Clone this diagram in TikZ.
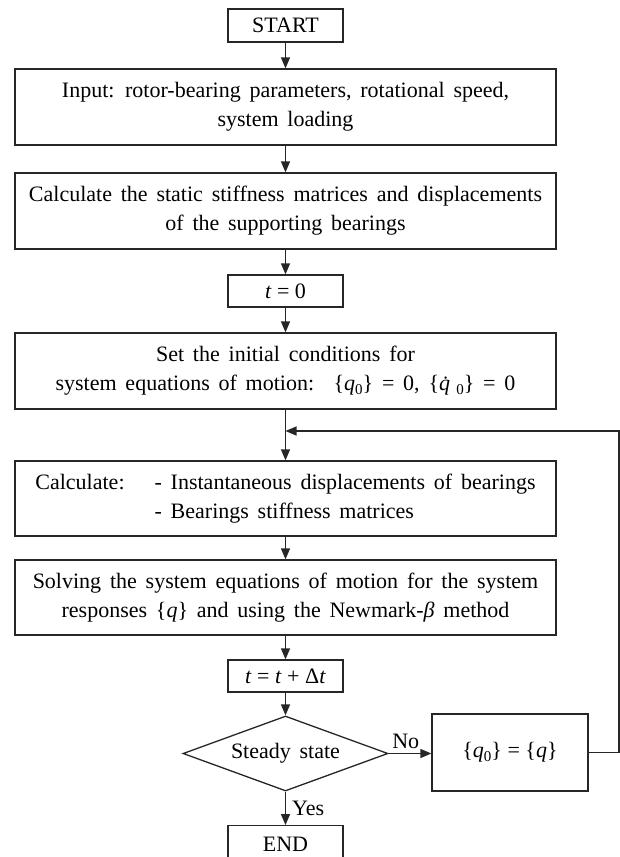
\documentclass[tikz,border=0pt]{standalone}
\usepackage{fontspec}
\setmainfont{Liberation Serif}
\usetikzlibrary{arrows.meta,shapes.geometric}
\newcommand{\mysub}[1]{\raisebox{-4pt}{\fontsize{15}{15}\selectfont #1}}
\newcommand{\myfont}{\fontsize{22}{29}\selectfont\spaceskip=0.4em plus 0.1em minus 0.05em\relax}
\newcommand{\myfontn}{\fontsize{22}{29}\selectfont}
\tikzset{
  box/.style={draw=black!85, line width=1.3pt, rectangle, inner sep=0pt, align=center,
    font=\myfont, minimum width=541pt, minimum height=76pt},
  smallbox/.style={box, font=\myfontn, minimum width=115pt, minimum height=33pt},
  decision/.style={draw=black!85, line width=1.3pt, diamond, inner sep=0pt, aspect=2.73,
    minimum width=205pt, minimum height=75pt, font=\myfont},
  arr/.style={draw=black!85, line width=1.3pt, -{Triangle[length=11pt,width=9pt]}},
  ln/.style={draw=black!85, line width=1.3pt},
  lbl/.style={font=\myfontn, inner sep=0pt}
}
\begin{document}
\begin{tikzpicture}[x=1pt,y=-1pt]
\useasboundingbox (0,0) rectangle (620,857);
\clip (0,0) rectangle (620,857);
\fill[white] (0,0) rectangle (620,857);
\node[smallbox] (start) at (285.5,25.5) {START};
\node[box] (input) at (285.5,107) {Input: rotor-bearing parameters, rotational speed,\\ system loading};
\node[box] (calc) at (285.5,211) {Calculate the static stiffness matrices and displacements\\ of the supporting bearings};
\node[smallbox, minimum height=32pt] (t0) at (285.5,291) {\textit{t} = 0};
\node[box] (set) at (285.5,371) {Set the initial conditions for\\ system equations of motion: \ \{\textit{q}\mysub{0}\} = 0, \{\textit{q̇}\mysub{0}\} = 0};
\coordinate (join) at (285.5,431);
\node[box, minimum height=75pt] (inst) at (285.5,498.5) {\begin{tabular}{@{}l@{\hspace{30pt}}l@{}}Calculate: & - Instantaneous displacements of bearings\\ & - Bearings stiffness matrices\end{tabular}};
\node[box, minimum height=75pt] (solve) at (285.5,597.5) {Solving the system equations of motion for the system\\ responses \{\textit{q}\} and using the Newmark-\textit{β} method};
\node[smallbox, minimum height=32pt] (tdt) at (285.5,676) {\textit{t} = \textit{t} + Δ\textit{t}};
\node[decision] (steady) at (285.5,753.5) {Steady state};
\node[box, font=\myfontn, minimum width=156pt, minimum height=77pt] (upd) at (510,752.5) {\{\textit{q}\mysub{0}\} = \{\textit{q}\}};
\node[smallbox, minimum height=40pt, anchor=north] (end) at (285.5,825) {\raisebox{3.5pt}{END}};
\coordinate (loopR) at (619,431);

\draw[arr] (start) -- (input);
\draw[arr] (input) -- (calc);
\draw[arr] (calc) -- (t0);
\draw[arr] (t0) -- (set);
\draw[ln] (set) -- (join);
\draw[arr] (join) -- (inst);
\draw[arr] (inst) -- (solve);
\draw[arr] (solve) -- (tdt);
\draw[arr] (tdt) -- (steady);
\draw[arr] (steady) -- node[lbl, right=6pt] {Yes} (end);
\draw[arr] (steady.east) -- node[lbl, above=4pt, pos=0.4] {No} (upd.west |- steady.east);
\draw[arr] (upd.east) -- (loopR |- upd.east) -- (loopR) -- (join);
\end{tikzpicture}
\end{document}
